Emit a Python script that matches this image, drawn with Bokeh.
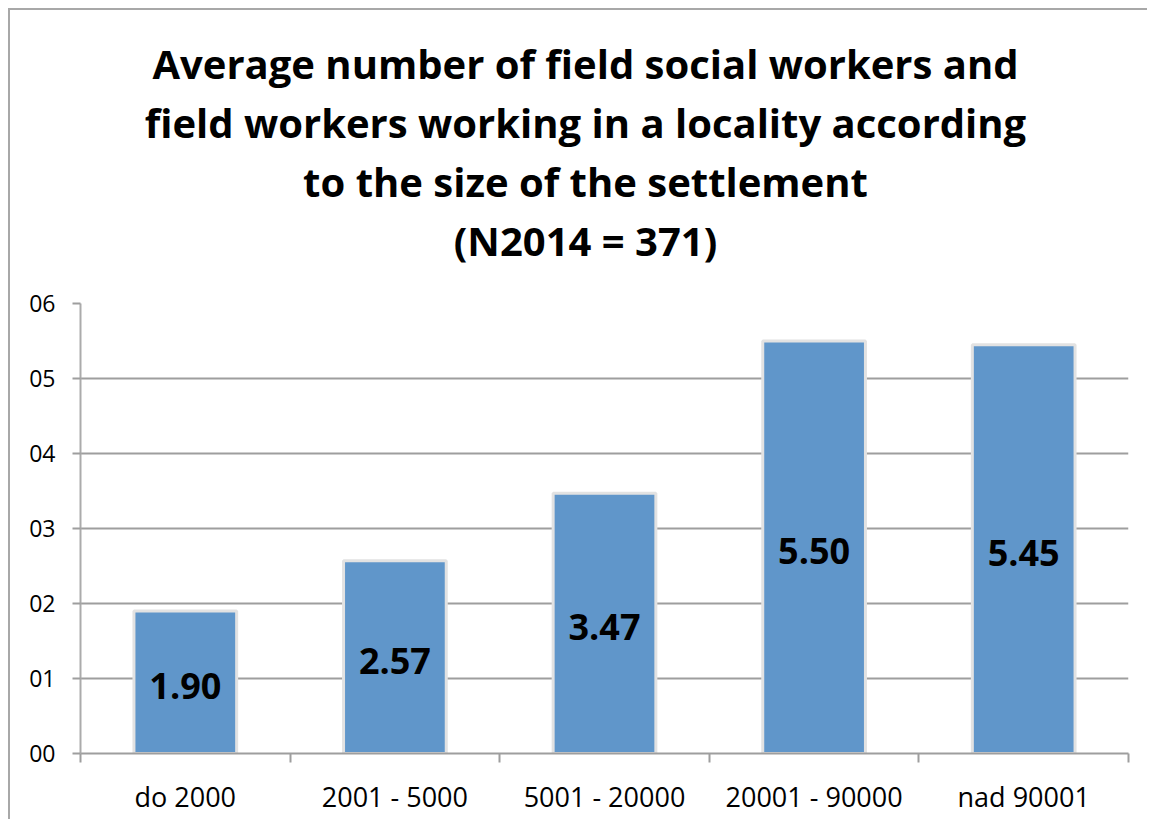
from bokeh.plotting import figure
from bokeh.models import ColumnDataSource, Range1d, FixedTicker, Title
from bokeh.core.properties import value
from bokeh.embed import file_html
from bokeh.resources import INLINE

# ---- data ----
categories = ["do 2000", "2001 - 5000", "5001 - 20000", "20001 - 90000", "nad 90001"]
values = [1.90, 2.57, 3.47, 5.50, 5.45]
value_labels = ["1.90", "2.57", "3.47", "5.50", "5.45"]
y_ticks = [0, 1, 2, 3, 4, 5, 6]
y_tick_labels = ["00", "01", "02", "03", "04", "05", "06"]
title_lines = [
    "Average number of field social workers and",
    "field workers working in a locality according",
    "to the size of the settlement",
    "(N2014 = 371)",
]

FONT = "Open Sans"
GRID = "#9E9E9E"

n = len(categories)
xs = [i + 0.5 for i in range(n)]
src = ColumnDataSource(dict(
    x=xs, top=values, mid=[v / 2 for v in values], label=value_labels))

p = figure(width=1139, height=811, output_backend="svg", toolbar_location=None,
           x_range=Range1d(0, n), y_range=Range1d(0, max(y_ticks)),
           min_border_left=70, min_border_right=21, min_border_top=293,
           min_border_bottom=68)
p.background_fill_color = "white"
p.border_fill_color = "white"
p.outline_line_color = None
p.styles = {"margin-left": "8px", "margin-top": "8px",
            "border-style": "solid none none solid",
            "border-width": "2px 0px 0px 2px",
            "border-color": "#A8A8A8"}

p.vbar(x="x", top="top", width=0.49, source=src, fill_color="#6096CA",
       line_color="#E2E2E2", line_width=3)
p.text(x="x", y="mid", text="label", source=src, text_align="center",
       text_baseline="middle", y_offset=4, text_font=value(FONT),
       text_font_size="36px", text_font_style="bold", text_color="black")

# grid
p.xgrid.visible = False
p.ygrid.ticker = FixedTicker(ticks=y_ticks)
p.ygrid.grid_line_color = GRID
p.ygrid.grid_line_width = 2

# y axis
p.yaxis.ticker = FixedTicker(ticks=y_ticks)
p.yaxis.major_label_overrides = {t: l for t, l in zip(y_ticks, y_tick_labels)}
p.yaxis.axis_line_color = "#ABABAB"
p.yaxis.axis_line_width = 2
p.yaxis.major_tick_out = 8
p.yaxis.major_tick_in = 0
p.yaxis.major_tick_line_color = GRID
p.yaxis.major_tick_line_width = 2
p.yaxis.minor_tick_line_color = None
p.yaxis.major_label_standoff = 17
p.yaxis.major_label_text_font = FONT
p.yaxis.major_label_text_font_size = "23px"
p.yaxis.major_label_text_color = "black"

# x axis: labels at centers, ticks at category boundaries
p.xaxis.ticker = FixedTicker(ticks=xs, minor_ticks=list(range(n + 1)))
p.xaxis.major_label_overrides = {x: c for x, c in zip(xs, categories)}
p.xaxis.axis_line_color = GRID
p.xaxis.axis_line_width = 2
p.xaxis.major_tick_line_color = None
p.xaxis.major_tick_out = 0
p.xaxis.major_tick_in = 0
p.xaxis.minor_tick_out = 9
p.xaxis.minor_tick_in = 0
p.xaxis.minor_tick_line_color = GRID
p.xaxis.minor_tick_line_width = 2
p.xaxis.major_label_standoff = 15
p.xaxis.major_label_text_font = FONT
p.xaxis.major_label_text_font_size = "27px"
p.xaxis.major_label_text_color = "black"

# title: a spacer next to the plot, then four centred lines (later = higher)
p.add_layout(Title(text=" ", text_font_size="1px", standoff=32), "above")
for line in reversed(title_lines):
    p.add_layout(Title(text=line, align="center", padding=(0, 38, 0, 0),
                       text_font=FONT, text_font_size="40px",
                       text_font_style="bold", text_color="black",
                       standoff=1.6), "above")

open("out.html", "w").write(file_html(p, INLINE))
